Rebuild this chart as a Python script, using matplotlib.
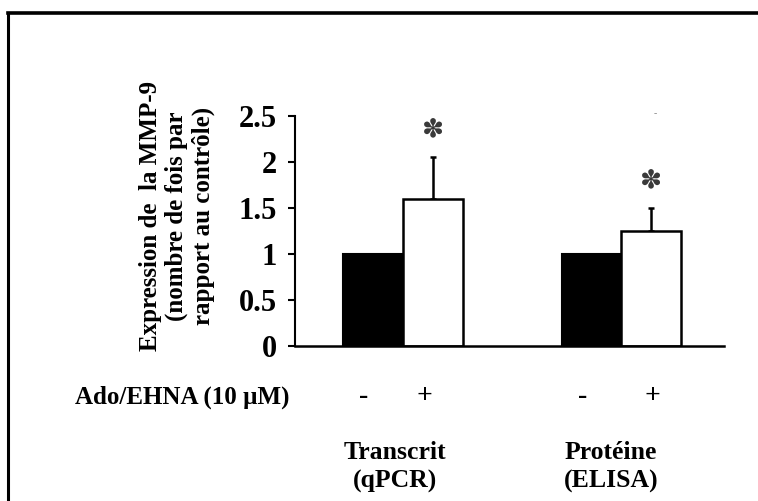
import matplotlib
matplotlib.use("Agg")
import matplotlib.pyplot as plt
from matplotlib.lines import Line2D

# ---- data ----
groups = ["Transcrit\n(qPCR)", "Protéine\n(ELISA)"]
treatment_labels = ["-", "+", "-", "+"]
control_values = [1.0, 1.0]
treated_values = [1.6, 1.25]
treated_errors = [0.45, 0.25]
signif = ["✽", "✽"]
yticks = [0, 0.5, 1, 1.5, 2, 2.5]
ytick_labels = ["0", "0.5", "1", "1.5", "2", "2.5"]
ylabel = "Expression de  la MMP-9\n(nombre de fois par\nrapport au contrôle)"
treat_title = "Ado/EHNA (10 µM)"

W, H = 758, 501
fig = plt.figure(figsize=(W / 100, H / 100), dpi=100)
FONT = "Liberation Serif"

def fx(px):
    return px / W

def fy(py):
    return 1 - py / H

# outer frame (left and top lines)
fig.add_artist(Line2D([fx(8), fx(8)], [fy(13), fy(501)], color="black", lw=2.2))
fig.add_artist(Line2D([fx(8), fx(758)], [fy(13), fy(13)], color="black", lw=2.6))

ax_left, ax_right, ax_top, ax_bottom = 295, 724, 116, 346
ax = fig.add_axes([fx(ax_left), fy(ax_bottom), fx(ax_right - ax_left), (ax_bottom - ax_top) / H])

# positions (layout, in bar-width units)
pos_ctrl = [1.3, 4.95]
pos_trt = [2.3, 5.93]
ax.set_xlim(0, (ax_right - ax_left) / 60)
ax.set_ylim(0, 2.5)

ax.bar(pos_ctrl, control_values, width=1.0, color="black", edgecolor="black", linewidth=1.5, zorder=2)
ax.bar(pos_trt, treated_values, width=1.0, color="white", edgecolor="black", linewidth=1.8, zorder=2)
ax.errorbar(pos_trt, treated_values, yerr=[[0, 0], treated_errors], fmt="none",
            ecolor="black", elinewidth=1.8, capsize=2.5, capthick=1.8, zorder=1)

for p, v, e, s in zip(pos_trt, treated_values, treated_errors, signif):
    ax.annotate(s, (p, v + e), xytext=(0, 20), textcoords="offset points",
                ha="center", va="center", fontsize=19, color="#3a3a3a",
                family="DejaVu Sans")

for sp in ["top", "right"]:
    ax.spines[sp].set_visible(False)
ax.spines["left"].set_linewidth(1.5)
ax.spines["bottom"].set_linewidth(1.8)
ax.set_xticks([])
ax.set_yticks(yticks)
ax.set_yticklabels(ytick_labels, fontsize=22, fontweight="bold", family=FONT)
ax.tick_params(axis="y", direction="out", length=5, width=1.5, pad=8)

# y label
fig.text(fx(177), fy(216), ylabel, rotation=90, ha="center", va="center",
         multialignment="center", fontsize=18, fontweight="bold", family=FONT,
         linespacing=1.15)

# treatment row
fig.text(fx(182), fy(397), treat_title, ha="center", va="center",
         fontsize=18, fontweight="bold", family=FONT)
treat_px = [364, 424, 583, 652]
for xp, lab in zip(treat_px, treatment_labels):
    fig.text(fx(xp), fy(397), lab, ha="center", va="center",
             fontsize=20, fontweight="bold", family=FONT)

# group labels
group_px = [395, 611]
for xp, g in zip(group_px, groups):
    fig.text(fx(xp), fy(467), g, ha="center", va="center", multialignment="center",
             fontsize=18.5, fontweight="bold", family=FONT, linespacing=1.35)

# tiny stray mark
fig.text(fx(655), fy(114), "-", ha="center", va="center", fontsize=7, color="#888888", family=FONT)

fig.savefig("out.png", dpi=100)
